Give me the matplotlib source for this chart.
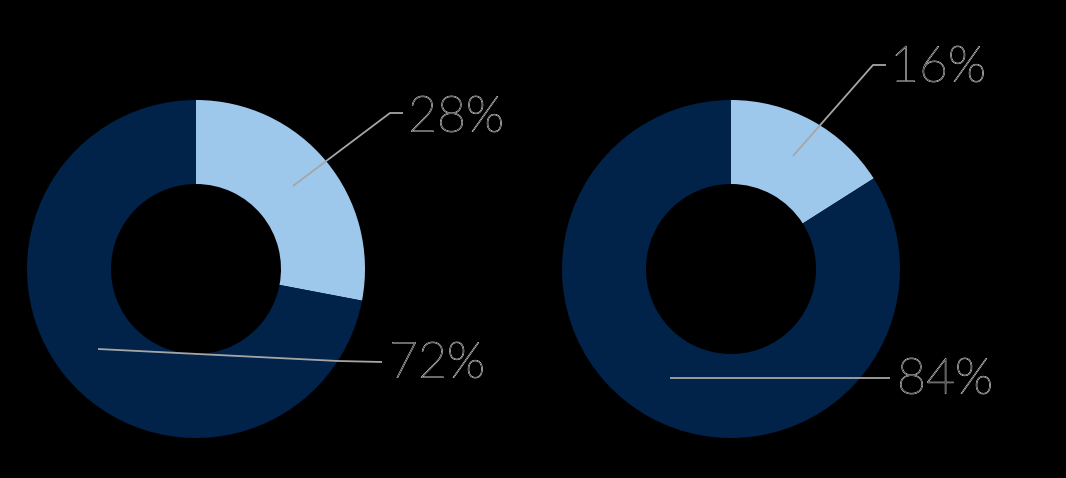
import matplotlib
matplotlib.use('Agg')
import matplotlib.pyplot as plt
import matplotlib.patheffects as pe

# data
left_values = [28, 72]
right_values = [16, 84]
colors = ['#9DC8EB', '#012249']

W, H = 1066, 478

fig = plt.figure(figsize=(W / 100, H / 100), dpi=100, facecolor='black')
ax = fig.add_axes([0, 0, 1, 1])
ax.set_facecolor('black')

# donuts (pixel coords, y measured from top)
for vals, cx in [(left_values, 196), (right_values, 731)]:
    ax.pie(vals, colors=colors, startangle=90, counterclock=False,
           center=(cx, H - 269), radius=169, frame=True,
           wedgeprops=dict(width=84, linewidth=0))

ax.set_xlim(0, W)
ax.set_ylim(0, H)
ax.set_aspect('equal')
ax.axis('off')

txt_fx = [pe.withStroke(linewidth=0.7, foreground='#d8d8d8')]


def callout(label, pts, text_xy):
    xs = [p[0] for p in pts]
    ys = [H - p[1] for p in pts]
    ax.plot(xs, ys, color='#a6a6a6', lw=1.3, solid_capstyle='butt')
    ax.text(text_xy[0], H - text_xy[1], label, fontsize=36, color='black',
            family='Lato', weight='light', ha='left', va='center',
            path_effects=txt_fx)


callout(f'{left_values[0]}%', [(293, 186), (390, 113), (403, 113)], (408, 118))
callout(f'{left_values[1]}%', [(98, 349), (338, 361), (382, 362)], (389, 364))
callout(f'{right_values[0]}%', [(793, 156), (873, 65), (886, 65)], (890, 68))
callout(f'{right_values[1]}%', [(670, 378), (890, 378)], (897, 380))

fig.savefig('out.png', dpi=100, facecolor='black')
